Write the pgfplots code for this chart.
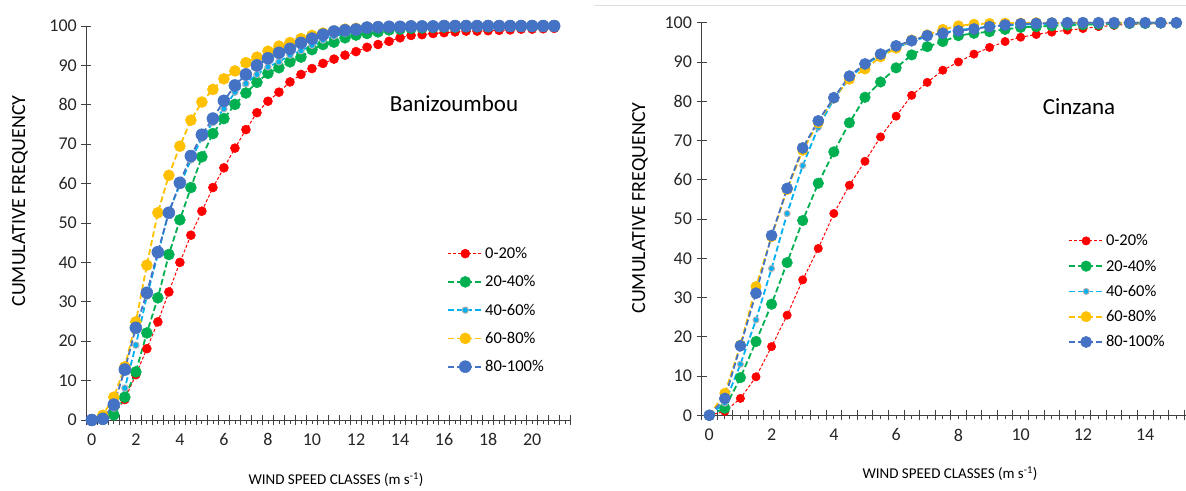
\documentclass[border=0pt]{standalone}
\usepackage{pgfplots}
\usepackage{pgfplotstable}
\pgfplotsset{compat=1.18}
\usepackage{fontspec}
\setmainfont{Carlito}
\definecolor{cred}{HTML}{FF0000}
\definecolor{cgreen}{HTML}{00B050}
\definecolor{clblue}{HTML}{00B0F0}
\definecolor{cyellow}{HTML}{FFC000}
\definecolor{cblue}{HTML}{4472C4}
\definecolor{axcol}{HTML}{404040}

\pgfplotstableread{
x r g lb y b
0 0 0 0 0 0
0.5 0.3 0.2 0.5 1.2 0.3
1 1.5 1.3 3.0 5.8 3.9
1.5 5.2 5.8 8.1 13.5 12.8
2 11.5 12.2 19.0 24.9 23.4
2.5 18.1 22.1 31.4 39.3 32.3
3 24.9 31.0 42.0 52.6 42.6
3.5 32.5 42.0 53.0 62.1 52.6
4 40.0 50.8 59.6 69.5 60.2
4.5 46.9 59.0 66.0 76.1 67.0
5 53.0 66.8 71.5 80.7 72.4
5.5 59.0 72.7 75.5 83.9 76.5
6 64.0 76.5 79.0 86.6 81.0
6.5 69.0 80.1 83.2 88.6 84.9
7 73.7 83.0 85.4 90.7 87.7
7.5 78.0 85.7 87.7 92.1 90.0
8 80.9 88.0 89.6 93.6 91.8
8.5 83.2 89.4 90.9 94.9 93.2
9 85.8 90.9 92.6 95.8 94.2
9.5 87.7 92.1 93.7 96.8 95.7
10 89.2 94.0 95.1 97.6 96.8
10.5 90.5 95.3 96.4 98.2 97.8
11 91.6 95.9 97.4 98.7 98.6
11.5 92.6 97.0 98.1 99.2 98.9
12 93.5 97.7 98.6 99.4 99.1
12.5 94.6 98.1 99.0 99.6 99.6
13 95.3 98.5 99.3 99.7 99.7
13.5 96.1 99.0 99.5 99.8 99.8
14 97.0 99.2 99.6 99.8 99.8
14.5 97.6 99.4 99.7 99.9 99.9
15 97.8 99.5 99.8 99.9 99.9
15.5 98.1 99.6 99.8 99.9 99.9
16 98.3 99.7 99.9 100 100
16.5 98.5 99.7 99.9 100 100
17 98.7 99.8 99.9 100 100
17.5 98.7 99.8 100 100 100
18 98.8 99.8 100 100 100
18.5 98.9 99.9 100 100 100
19 99.0 99.9 100 100 100
19.5 99.2 99.9 100 100 100
20 99.2 99.9 100 100 100
20.5 99.3 99.9 100 100 100
21 99.4 100 100 100 100
}\banizoumbou

\pgfplotstableread{
x r g lb y b
0 0 0 0 0 0
0.5 1.0 1.8 3.1 5.6 4.3
1 4.3 9.6 13.0 17.9 17.7
1.5 9.8 18.8 24.3 32.8 31.1
2 17.5 28.3 37.4 45.5 45.8
2.5 25.5 38.9 51.4 57.5 57.8
3 34.5 49.6 63.6 67.5 68.1
3.5 42.5 59.1 73.3 74.5 75.0
4 51.4 67.1 80.5 80.8 80.9
4.5 58.6 74.5 86.0 85.6 86.4
5 64.7 81.0 89.3 88.2 89.5
5.5 70.9 84.9 91.7 91.3 92.0
6 76.2 88.5 93.6 93.5 94.1
6.5 81.5 91.8 95.2 95.6 95.4
7 84.8 93.9 96.5 96.9 96.7
7.5 87.9 95.2 97.4 98.3 97.3
8 90.0 96.7 98.1 99.2 97.9
8.5 92.0 97.3 98.6 99.6 98.4
9 93.7 97.7 99.0 99.8 99.0
9.5 95.2 98.3 99.3 99.9 99.4
10 96.3 98.8 99.5 99.9 99.7
10.5 97.0 99.0 99.6 100 99.8
11 97.6 99.2 99.7 100 99.9
11.5 98.1 99.4 99.8 100 100
12 98.5 99.5 99.8 100 100
12.5 99.0 99.6 99.9 100 100
13 99.3 99.7 99.9 100 100
13.5 99.6 99.8 100 100 100
14 99.7 99.8 100 100 100
14.5 99.7 99.9 100 100 100
15 99.8 99.9 100 100 100
}\cinzana

\pgfplotsset{
  myaxis/.style={
    scale only axis, clip=false,
    axis x line=bottom, axis y line=left,
    axis line style={-, axcol, line width=0.9pt},
    ymin=0, ymax=100, ytick={0,10,...,100},
    xmin=-0.25,
    tick align=center,
    major tick length=10pt,
    minor tick length=4pt,
    tick style={axcol, line width=0.8pt},
    minor x tick style={yshift=-2pt},
    xticklabels={},
    extra x tick style={major tick length=0pt},
    every tick label/.append style={font=\fontsize{18}{21}\selectfont, text=black!85},
    xticklabel style={yshift=-10pt},
    yticklabel style={xshift=-1pt},
    /pgf/number format/assume math mode=true,
    legend cell align=left,
    legend style={draw=none, fill=none, font=\fontsize{16.5}{19}\selectfont, anchor=north west, row sep=11.5pt, inner sep=0pt},
    legend image code/.code={\draw[mark repeat=2,mark phase=2] plot coordinates {(0pt,0pt)(17pt,0pt)(34pt,0pt)};},
  },
  sr/.style={cred, line width=1pt, dash pattern=on 3pt off 2pt, mark=*, mark size=#1, mark options={solid, fill=cred, draw=cred, line width=0.5pt}},
  sg/.style={cgreen, line width=1.8pt, dash pattern=on 6pt off 3pt, mark=*, mark size=#1, mark options={solid, fill=cgreen, draw=cgreen, line width=0.5pt}},
  sl/.style={clblue, line width=1.8pt, dash pattern=on 6pt off 3pt, mark=*, mark size=#1, mark options={solid, fill=clblue, draw=gray!60, line width=1pt}},
  sy/.style={cyellow, line width=1.8pt, dash pattern=on 6pt off 3pt, mark=*, mark size=#1, mark options={solid, fill=cyellow, draw=cyellow, line width=0.5pt}},
  sb/.style={cblue, line width=1.8pt, dash pattern=on 6pt off 3pt, mark=*, mark size=#1, mark options={solid, fill=cblue, draw=cblue, line width=0.5pt}},
}

\begin{document}
\begin{tikzpicture}
\useasboundingbox (0,0) rectangle (1186pt,490pt);
\draw[gray!25, line width=0.8pt] (594pt,484.5pt) -- (1186pt,484.5pt);

\begin{axis}[myaxis,
  at={(86.3pt,70pt)}, anchor=south west,
  width=484.4pt, height=394pt,
  xmax=21.75,
  xtick={-0.25,0.25,...,21.75},
  minor xtick={0,0.5,...,21.5},
  extra x ticks={0,2,...,20},
  extra x tick labels={0,2,4,6,8,10,12,14,16,18,20},
  legend style={at={(0.745,0.444)}},
]
\addplot[sr=4.5pt] table[x=x,y=r] {\banizoumbou};
\addlegendentry{0-20\%}
\addplot[sg=5.5pt] table[x=x,y=g] {\banizoumbou};
\addlegendentry{20-40\%}
\addplot[sl=3.2pt] table[x=x,y=lb] {\banizoumbou};
\addlegendentry{40-60\%}
\addplot[sy=5.5pt] table[x=x,y=y] {\banizoumbou};
\addlegendentry{60-80\%}
\addplot[sb=6pt] table[x=x,y=b] {\banizoumbou};
\addlegendentry{80-100\%}
\end{axis}

\begin{axis}[myaxis,
  at={(701.5pt,74.7pt)}, anchor=south west,
  width=498.2pt, height=392.6pt,
  xmax=15.75,
  xtick={-0.25,0.25,...,15.75},
  minor xtick={0,0.5,...,15.5},
  extra x ticks={0,2,...,14},
  extra x tick labels={0,2,4,6,8,10,12,14},
  legend style={at={(0.7357,0.466)}, row sep=8.5pt},
]
\addplot[sr=4.2pt] table[x=x,y=r] {\cinzana};
\addlegendentry{0-20\%}
\addplot[sg=5.3pt] table[x=x,y=g] {\cinzana};
\addlegendentry{20-40\%}
\addplot[sl=3pt] table[x=x,y=lb] {\cinzana};
\addlegendentry{40-60\%}
\addplot[sy=5.2pt] table[x=x,y=y] {\cinzana};
\addlegendentry{60-80\%}
\addplot[sb=5.6pt] table[x=x,y=b] {\cinzana};
\addlegendentry{80-100\%}
\end{axis}

\node[font=\fontsize{23}{27}\selectfont] at (454pt,386pt) {Banizoumbou};
\node[font=\fontsize{23}{27}\selectfont] at (1079pt,383pt) {Cinzana};
\node[rotate=90, font=\fontsize{20}{24}\selectfont] at (20pt,289pt) {CUMULATIVE FREQUENCY};
\node[rotate=90, font=\fontsize{20}{24}\selectfont] at (640pt,282pt) {CUMULATIVE FREQUENCY};
\node[font=\fontsize{15}{18}\selectfont] at (336pt,10pt) {WIND SPEED CLASSES (m s\textsuperscript{-1})};
\node[font=\fontsize{15}{18}\selectfont] at (950pt,16pt) {WIND SPEED CLASSES (m s\textsuperscript{-1})};
\end{tikzpicture}
\end{document}
